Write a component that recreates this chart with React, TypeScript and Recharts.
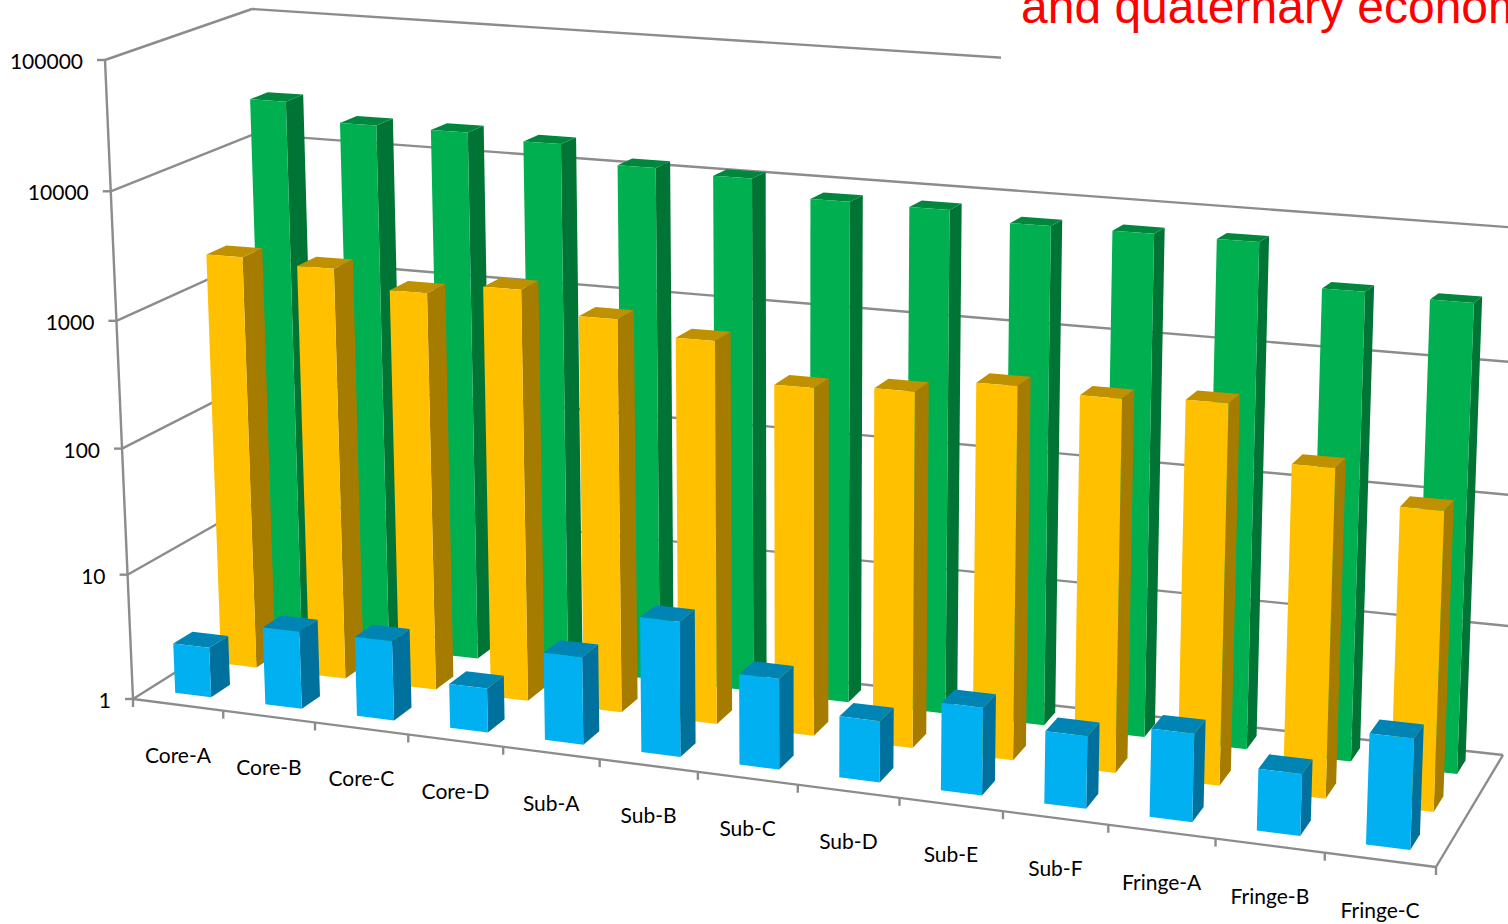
import { BarChart, Bar, CartesianGrid, XAxis, YAxis } from 'recharts';

const categories = ['Core-A', 'Core-B', 'Core-C', 'Core-D', 'Sub-A', 'Sub-B', 'Sub-C', 'Sub-D', 'Sub-E', 'Sub-F', 'Fringe-A', 'Fringe-B', 'Fringe-C'];
const blueValues = [2.5, 4.1, 4.2, 2.2, 4.7, 10.6, 4.8, 2.85, 4.4, 3.35, 4.3, 2.75, 6];
const orangeValues = [2000, 1850, 1360, 1650, 1120, 880, 450, 490, 625, 585, 630, 252, 147];
const greenValues = [23200, 16900, 16700, 15300, 11300, 10600, 8000, 7900, 6800, 6800, 6750, 3350, 3200];
const yTicks = [1, 10, 100, 1000, 10000, 100000];

const rows = categories.map((name, i) => ({
    name,
    blue: blueValues[i],
    orange: orangeValues[i],
    green: greenValues[i],
}));

// flat plot area handed to recharts, its pixels get projected onto the 3D box
const PLOT = { left: 100, top: 100, width: 1300, height: 700 };
const SLOT = PLOT.width / categories.length;
const BAR_SIZE = SLOT * 0.4;
const GRID = '#8c8c8c';
const FONT = 'Lato, sans-serif';

type Pt = [number, number];
const mix = (a: Pt, b: Pt, k: number): Pt => [a[0] + (b[0] - a[0]) * k, a[1] + (b[1] - a[1]) * k];

// box corners: front/back, bottom/top, left/right
const FBL: Pt = [133, 699];
const FBR: Pt = [1436, 867];
const FTL: Pt = [105, 60];
const FTR: Pt = [1463, 117];
const BBL: Pt = [262, 618];
const BBR: Pt = [1503, 755];
const BTL: Pt = [243, 9];
const BTR: Pt = [1528, 92];

// slots get wider towards the viewer on the right
const warpU = (u: number) => u / (u + (1 - u) * 1.12);
// decades are slightly compressed near the floor
const warpV = (v: number) => v - 0.034 * v * (1 - v);
// rows of bars drift towards the viewer on the right
const bendD = (d: number, u: number) => d * (1 - 0.055 * warpU(u));

function project(u: number, v: number, d: number): Pt {
    const t = warpU(u);
    const h = warpV(v);
    const front = mix(mix(FBL, FBR, t), mix(FTL, FTR, t), h);
    const back = mix(mix(BBL, BBR, t), mix(BTL, BTR, t), h);
    return mix(front, back, d);
}

// the back wall's left edge leans a little less than the bars do
const wallLeft = (v: number): Pt => {
    const p = project(0, v, 1);
    return [p[0] + 9 * v, p[1]];
};

const toU = (x: number) => (x - PLOT.left) / PLOT.width;
const toV = (y: number) => (PLOT.top + PLOT.height - y) / PLOT.height;
const poly = (pts: Pt[]) => pts.map((p) => p.join(',')).join(' ');

// a Bar shape that turns the flat rectangle into a prism standing at a given depth
function prism(d0: number, d1: number, front: string, side: string, top: string) {
    return (props: any) => {
        const { x, y, width, height } = props;
        const u0 = toU(x);
        const u1 = toU(x + width);
        const v0 = toV(y + height);
        const v1 = toV(y);
        const near = bendD(d0, u0);
        const far = bendD(d1, u0);
        return (
            <g>
                <polygon points={poly([project(u1, v0, near), project(u1, v0, far), project(u1, v1, far), project(u1, v1, near)])} fill={side} />
                <polygon points={poly([project(u0, v1, near), project(u1, v1, near), project(u1, v1, far), project(u0, v1, far)])} fill={top} />
                <polygon points={poly([project(u0, v0, near), project(u1, v0, near), project(u1, v1, near), project(u0, v1, near)])} fill={front} />
            </g>
        );
    };
}

function Seg({ a, b }: { a: Pt; b: Pt }) {
    return <line x1={a[0]} y1={a[1]} x2={b[0]} y2={b[1]} stroke={GRID} strokeWidth={2.4} />;
}

// one horizontal gridline folded over the side wall and the back wall; the lowest one also draws the floor
function WallLine(props: any) {
    const v = toV(props.y1);
    const isFloor = v < 0.001;
    const p = project(0, v, 0);
    const corner = wallLeft(v);
    const end = isFloor ? project(1, 0, 1) : project(1.02, v, 1);
    return (
        <g>
            <Seg a={p} b={corner} />
            <Seg a={corner} b={end} />
            {isFloor && <Seg a={project(0, 0, 0)} b={project(0, 1, 0)} />}
            {isFloor && <Seg a={project(0, 0, 0)} b={project(1, 0, 0)} />}
            {isFloor && <Seg a={project(1, 0, 0)} b={project(1, 0, 1)} />}
        </g>
    );
}

function ValueTick(props: any) {
    const { y, payload } = props;
    const p = project(0, toV(y), 0);
    return (
        <g>
            <Seg a={[p[0] - 8, p[1]]} b={p} />
            <text x={p[0] - 22} y={p[1] + 9} textAnchor="end" fontFamily={FONT} fontSize={21} fill="#000">
                {payload.value}
            </text>
        </g>
    );
}

// category tick: stub on the slot's left edge, the last one also closes the right edge
function CategoryTick(props: any) {
    const { x, payload, index } = props;
    const u = toU(x);
    const left = project(u - SLOT / PLOT.width / 2, 0, 0);
    const right = project(u + SLOT / PLOT.width / 2, 0, 0);
    const mid = project(u, 0, 0);
    return (
        <g>
            <Seg a={left} b={[left[0], left[1] + 8]} />
            {index === categories.length - 1 && <Seg a={right} b={[right[0], right[1] + 8]} />}
            <text x={mid[0]} y={mid[1] + 58} textAnchor="middle" fontFamily={FONT} fontSize={21} fill="#000">
                {payload.value}
            </text>
        </g>
    );
}

export default function App() {
    return (
        <div style={{ position: 'absolute', left: 0, top: 0, width: 1508, height: 924, overflow: 'hidden', background: '#fff' }}>
            <BarChart
                width={1508}
                height={924}
                data={rows}
                barSize={BAR_SIZE}
                barGap={-BAR_SIZE}
                margin={{ top: PLOT.top, left: PLOT.left - 1, right: 1508 - PLOT.left - PLOT.width, bottom: 924 - PLOT.top - PLOT.height - 1 }}
            >
                <CartesianGrid vertical={false} horizontal={WallLine} />
                <XAxis dataKey="name" height={1} axisLine={false} tickLine={false} interval={0} tick={CategoryTick} />
                <YAxis
                    width={1}
                    scale="log"
                    domain={[1, 100000]}
                    ticks={yTicks}
                    interval={0}
                    axisLine={false}
                    tickLine={false}
                    tick={ValueTick}
                />
                <Bar dataKey="green" isAnimationActive={false} shape={prism(0.84, 0.97, '#00b050', '#007434', '#00873d')} />
                <Bar dataKey="orange" isAnimationActive={false} shape={prism(0.48, 0.63, '#ffc000', '#a67c00', '#bf9000')} />
                <Bar dataKey="blue" isAnimationActive={false} shape={prism(0.12, 0.27, '#00b0f0', '#00719c', '#0084b4')} />
            </BarChart>
            {/* heading block sits over the top wall line */}
            <div
                style={{
                    position: 'absolute',
                    left: 1001,
                    top: 0,
                    width: 507,
                    height: 110,
                    background: '#fff',
                    overflow: 'hidden',
                    whiteSpace: 'nowrap',
                    color: '#ff0000',
                    fontFamily: '"Liberation Sans", Arial, sans-serif',
                    fontSize: 48,
                }}
            >
                <span style={{ position: 'absolute', left: 20, top: -21 }}>and quaternary economies</span>
            </div>
        </div>
    );
}
